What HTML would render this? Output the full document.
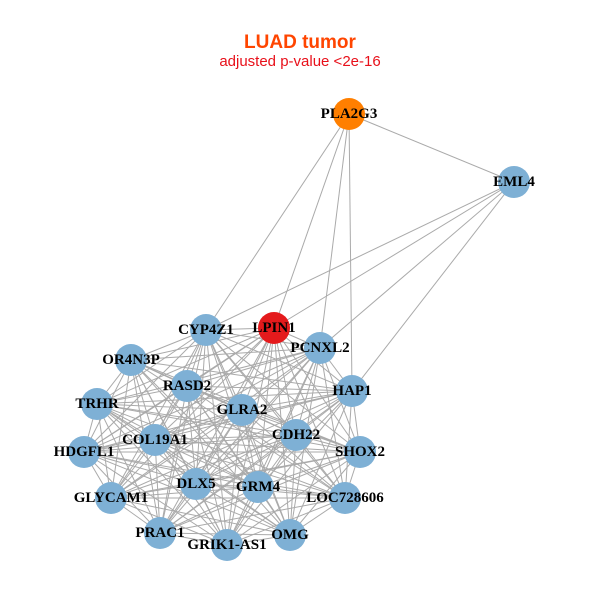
<!DOCTYPE html>
<html><head><meta charset="utf-8"><style>
html,body{margin:0;padding:0;background:#fff;}
svg{display:block}
.l{font-family:"Liberation Serif",serif;font-weight:bold;font-size:15px;fill:#000;text-anchor:middle;dominant-baseline:central}
</style></head><body>
<svg id="s" width="600" height="600" xmlns="http://www.w3.org/2000/svg">
<text x="300" y="48" text-anchor="middle" font-family="Liberation Sans,sans-serif" font-weight="bold" font-size="19" fill="#FF4500">LUAD tumor</text>
<text x="300" y="66" text-anchor="middle" font-family="Liberation Sans,sans-serif" font-size="15" fill="#E8101A">adjusted p-value &lt;2e-16</text>
<g id="e" stroke="#aaaaaa" stroke-width="1" fill="none"></g>
<g id="n"></g>
</svg>
<script>
var N={PLA2G3:[349,114,'#FF7F00'],EML4:[514,182],LPIN1:[274,328,'#E41A1C'],CYP4Z1:[206,330],PCNXL2:[320,348],OR4N3P:[131,360],RASD2:[187,386],HAP1:[352,391],TRHR:[97,404],GLRA2:[242,410],CDH22:[296,435],HDGFL1:[84,452],COL19A1:[155,440],SHOX2:[360,452],DLX5:[196,484],GRM4:[258,487],GLYCAM1:[111,498],LOC728606:[345,498],PRAC1:[160,533],'GRIK1-AS1':[227,545],OMG:[290,535]};
var E=[['PLA2G3','EML4'],['PLA2G3','CYP4Z1'],['PLA2G3','LPIN1'],['PLA2G3','PCNXL2'],['PLA2G3','HAP1'],['EML4','LPIN1'],['EML4','PCNXL2'],['EML4','HAP1'],['EML4','CYP4Z1']];
var k=Object.keys(N).filter(function(x){return x!='PLA2G3'&&x!='EML4'});
for(var i=0;i<k.length;i++)for(var j=i+1;j<k.length;j++)E.push([k[i],k[j]]);
var ns='http://www.w3.org/2000/svg',eg=document.getElementById('e'),ng=document.getElementById('n');
E.forEach(function(p){var a=N[p[0]],b=N[p[1]],l=document.createElementNS(ns,'line');l.setAttribute('x1',a[0]);l.setAttribute('y1',a[1]);l.setAttribute('x2',b[0]);l.setAttribute('y2',b[1]);eg.appendChild(l);});
for(var n in N){var v=N[n],c=document.createElementNS(ns,'circle');c.setAttribute('cx',v[0]);c.setAttribute('cy',v[1]);c.setAttribute('r',16);c.setAttribute('fill',v[2]||'#7EB0D5');ng.appendChild(c);}
for(var n in N){var v=N[n],t=document.createElementNS(ns,'text');t.setAttribute('x',v[0]);t.setAttribute('y',v[1]);t.setAttribute('class','l');t.textContent=n;ng.appendChild(t);}
</script>
</body></html>
